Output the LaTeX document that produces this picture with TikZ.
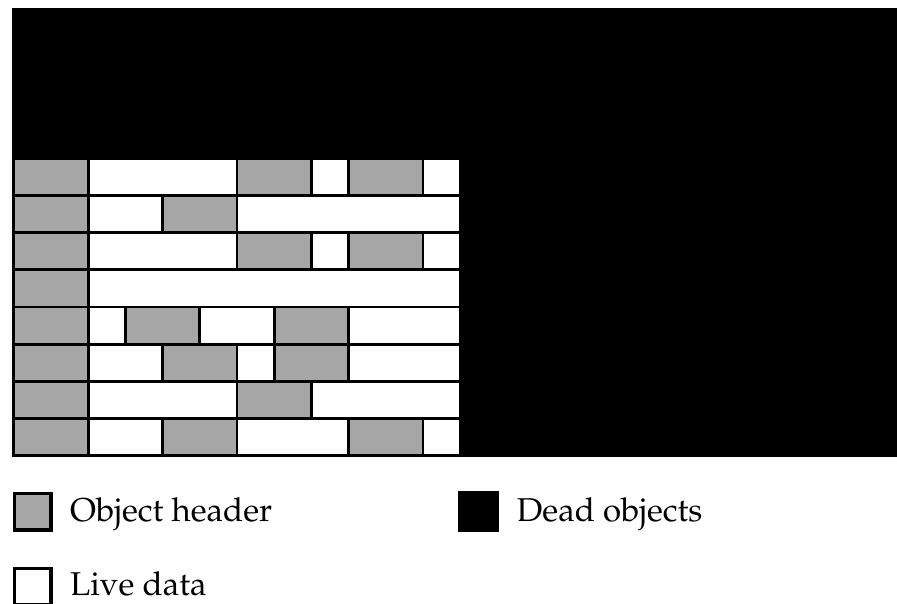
\documentclass[tikz,border=0pt]{standalone}
\usepackage[T1]{fontenc}
\usepackage{mathpazo}
\definecolor{hdrgray}{RGB}{166,166,166}
\begin{document}
\begin{tikzpicture}[x=1pt,y=-1pt,
  cell/.style={draw=black,line width=2.8pt},
  hdr/.style={cell,fill=hdrgray},
  live/.style={cell,fill=white},
  keybox/.style={draw=black,line width=3.4pt},
  lbl/.style={anchor=base west,inner sep=0pt,font=\fontsize{33}{40}\selectfont}]
\useasboundingbox (0,0) rectangle (897,604);
% dead region behind the heap
\fill[black] (12.3,8) rectangle (905,457.3);
% heap rows: style/start/end in word units
\foreach \r/\cells in {
  0/{hdr/0/2,live/2/6,hdr/6/8,live/8/9,hdr/9/11,live/11/12},
  1/{hdr/0/2,live/2/4,hdr/4/6,live/6/12},
  2/{hdr/0/2,live/2/6,hdr/6/8,live/8/9,hdr/9/11,live/11/12},
  3/{hdr/0/2,live/2/12},
  4/{hdr/0/2,live/2/3,hdr/3/5,live/5/7,hdr/7/9,live/9/12},
  5/{hdr/0/2,live/2/4,hdr/4/6,live/6/7,hdr/7/9,live/9/12},
  6/{hdr/0/2,live/2/6,hdr/6/8,live/8/12},
  7/{hdr/0/2,live/2/4,hdr/4/6,live/6/9,hdr/9/11,live/11/12}}{
  \foreach \t/\a/\b in \cells {
    \path[\t] (13.8+\a*37.2,158.2+\r*37.2) rectangle (13.8+\b*37.2,158.2+\r*37.2+37.2);
  }
}
% legend
\path[keybox,fill=hdrgray] (14.4,493.4) rectangle (51,530);
\node[lbl] (hdrtext) at (70,521.7) {Object header};
\fill[black] (458,491) rectangle (499,532);
\node[lbl] (deadtext) at (516.7,521.7) {Dead objects};
\path[keybox,fill=white] (14.4,568.4) rectangle (51,605);
\node[lbl] (livetext) at (70,595.5) {Live data};
\end{tikzpicture}
\end{document}
